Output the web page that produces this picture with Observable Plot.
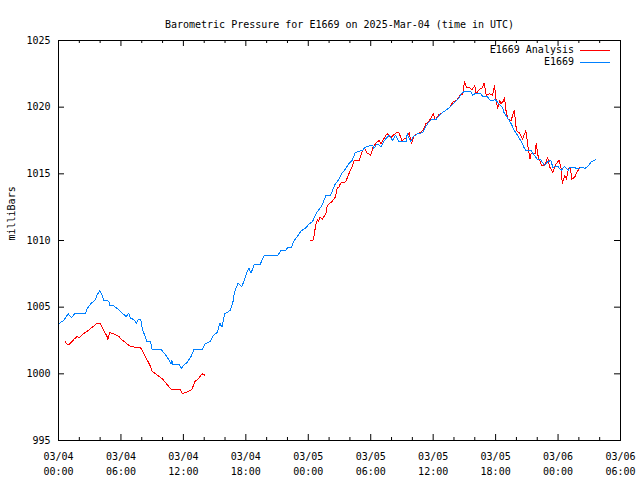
<!DOCTYPE html>
<html>
<head>
<meta charset="utf-8">
<script src="https://cdn.jsdelivr.net/npm/d3@7"></script>
<script src="https://cdn.jsdelivr.net/npm/@observablehq/plot@0.6"></script>
<style>
  html, body { margin: 0; padding: 0; background: #fff; }
  #chart { width: 640px; height: 480px; }
</style>
</head>
<body>
<div id="chart"></div>
<script>
// ---- Data (hours since 2025-03-04 00:00 UTC, pressure in millibars) ----
const titleText = "Barometric Pressure for E1669 on 2025-Mar-04 (time in UTC)";
const yLabelText = "milliBars";
const seriesNames = ["E1669 Analysis", "E1669"];
const seriesColors = ["#ff0000", "#0080ff"];

const xTickHours = [0, 6, 12, 18, 24, 30, 36, 42, 48, 54];
const xTickLabels = ["03/04\n00:00", "03/04\n06:00", "03/04\n12:00", "03/04\n18:00",
  "03/05\n00:00", "03/05\n06:00", "03/05\n12:00", "03/05\n18:00", "03/06\n00:00", "03/06\n06:00"];
const xMinorHours = [2, 4, 8, 10, 14, 16, 20, 22, 26, 28, 32, 34, 38, 40, 44, 46, 50, 52];
const yTicks = [995, 1000, 1005, 1010, 1015, 1020, 1025];

// E1669 (observed)
const obsHours = [0.1, 0.5, 0.93, 1.25, 1.54, 2.6, 2.76, 3.14, 3.5, 3.7, 3.97, 4.2, 4.36, 4.84, 4.9, 5.3, 5.8, 6.2, 6.5, 6.76, 6.9, 7.24, 7.5, 7.7, 7.9, 8.05, 8.5, 8.85, 9.0, 9.9, 10.3, 10.6, 10.8, 10.9, 11.0, 11.6, 11.8, 12.0, 12.4, 12.7, 12.85, 13.0, 13.8, 14.1, 14.6, 14.9, 15.25, 15.5, 15.7, 15.96, 16.5, 16.8, 16.9, 17.25, 17.6, 17.8, 18.1, 18.3, 18.5, 18.8, 19.36, 19.8, 21.1, 21.35, 21.8, 22.05, 22.4, 22.6, 22.95, 23.3, 23.75, 24.1, 24.4, 24.7, 25.0, 25.3, 25.7, 26.15, 26.4, 26.6, 26.95, 27.25, 27.6, 27.9, 28.25, 28.5, 28.9, 29.2, 29.4, 29.85, 30.2, 30.3, 30.6, 31.0, 31.3, 31.8, 32.1, 32.4, 32.7, 33.4, 33.5, 33.85, 34.1, 34.5, 35.0, 35.3, 35.6, 35.9, 36.25, 36.6, 36.9, 37.2, 37.6, 38.1, 38.4, 38.7, 39.0, 39.6, 39.8, 40.1, 40.6, 40.75, 41.2, 41.5, 42.0, 42.3, 42.65, 42.8, 43.1, 43.5, 43.8, 44.1, 44.4, 44.75, 44.9, 45.4, 45.7, 46.0, 46.35, 46.7, 47.0, 47.3, 47.5, 48.0, 48.3, 48.6, 49.0, 49.1, 49.6, 49.9, 50.4, 50.6, 50.9, 51.2, 51.6];
const obsValues = [1003.8, 1004.0, 1004.5, 1004.2, 1004.5, 1004.5, 1004.9, 1005.3, 1005.5, 1005.9, 1006.25, 1005.9, 1005.5, 1005.45, 1005.1, 1005.1, 1004.8, 1004.5, 1004.3, 1004.55, 1004.2, 1004.05, 1003.8, 1004.1, 1004.1, 1003.4, 1002.4, 1002.4, 1001.8, 1001.8, 1001.4, 1001.05, 1000.75, 1001.0, 1000.7, 1000.7, 1000.4, 1000.6, 1000.9, 1001.25, 1001.5, 1001.8, 1001.8, 1002.25, 1002.45, 1002.9, 1003.1, 1003.8, 1003.5, 1004.5, 1004.75, 1005.5, 1006.1, 1006.8, 1006.55, 1006.9, 1007.6, 1007.9, 1007.55, 1008.2, 1008.2, 1008.9, 1008.9, 1009.25, 1009.25, 1009.5, 1009.5, 1009.95, 1010.3, 1010.7, 1010.95, 1011.25, 1011.4, 1011.95, 1012.3, 1012.6, 1013.4, 1013.4, 1013.9, 1014.25, 1014.6, 1015.05, 1015.4, 1015.75, 1016.05, 1016.6, 1016.7, 1016.75, 1016.95, 1017.1, 1017.1, 1016.9, 1017.25, 1017.05, 1017.5, 1017.9, 1017.5, 1017.9, 1017.4, 1017.4, 1018.0, 1017.4, 1017.8, 1018.0, 1018.1, 1018.55, 1018.9, 1019.1, 1019.05, 1019.4, 1019.6, 1019.75, 1020.0, 1020.4, 1020.6, 1021.0, 1021.2, 1021.2, 1020.9, 1021.05, 1021.0, 1020.8, 1020.8, 1020.5, 1020.55, 1020.25, 1020.0, 1019.6, 1019.25, 1018.75, 1018.25, 1017.9, 1017.5, 1016.95, 1016.75, 1016.75, 1016.4, 1016.1, 1016.05, 1015.6, 1015.9, 1016.0, 1015.5, 1015.55, 1015.25, 1015.55, 1015.25, 1015.5, 1015.45, 1015.4, 1015.5, 1015.4, 1015.6, 1015.9, 1016.05];

// E1669 Analysis (null = gap)
const anaHours = [0.67, 0.83, 1.0, 1.5, 1.8, 1.95, 2.4, 2.85, 3.24, 3.65, 4.04, 4.36, 4.7, 4.74, 4.9, 5.3, 5.8, 6.1, 6.5, 6.9, 7.9, 8.2, 8.85, 9.0, 9.5, 10.0, 10.6, 10.9, 11.7, 11.9, 12.2, 12.7, 12.85, 13.1, 13.5, 13.8, 14.07, 19.0, 24.2, 24.5, 24.7, 24.9, 25.0, 25.1, 25.35, 25.7, 25.8, 26.0, 26.25, 26.6, 26.8, 26.95, 27.1, 27.6, 27.9, 28.25, 28.4, 28.9, 29.2, 29.4, 29.6, 30.0, 30.2, 30.5, 30.8, 31.0, 31.45, 31.6, 31.9, 32.4, 32.7, 33.0, 33.4, 33.7, 33.9, 34.2, 34.65, 35.0, 35.3, 35.55, 35.8, 36.0, 36.2, 36.5, 36.9, 37.2, 37.6, 37.9, 38.3, 38.6, 38.85, 39.0, 39.2, 39.5, 39.7, 40.0, 40.1, 40.4, 40.7, 40.9, 41.1, 41.4, 41.7, 41.9, 42.05, 42.2, 42.4, 42.5, 42.7, 42.85, 43.0, 43.2, 43.5, 43.7, 43.8, 44.0, 44.3, 44.6, 44.9, 45.1, 45.3, 45.4, 45.8, 45.9, 46.1, 46.45, 46.8, 47.0, 47.2, 47.5, 47.8, 48.1, 48.3, 48.4, 48.65, 48.8, 49.0, 49.2, 49.3, 49.6, 49.8, 50.1];
const anaValues = [1002.4, 1002.2, 1002.2, 1002.6, 1002.8, 1002.7, 1003.0, 1003.25, 1003.5, 1003.75, 1003.75, 1003.25, 1002.75, 1002.55, 1003.1, 1003.0, 1002.8, 1002.55, 1002.3, 1002.05, 1001.95, 1001.5, 1000.55, 1000.2, 999.9, 999.6, 999.05, 998.8, 998.8, 998.5, 998.6, 998.75, 998.9, 999.4, 999.7, 1000.0, 999.9, null, 1010.0, 1010.05, 1011.1, 1011.6, 1011.4, 1011.75, 1011.6, 1012.05, 1012.55, 1012.75, 1012.9, 1013.25, 1014.0, 1014.0, 1014.3, 1014.4, 1015.0, 1015.6, 1016.0, 1016.0, 1016.75, 1016.95, 1016.6, 1016.4, 1016.95, 1017.3, 1017.5, 1017.25, 1017.9, 1018.0, 1017.7, 1018.05, 1018.1, 1017.5, 1017.7, 1018.1, 1017.25, 1017.9, 1018.05, 1018.25, 1018.75, 1018.9, 1019.2, 1019.5, 1019.05, 1019.4, 1019.6, 1019.75, 1020.0, 1020.4, 1020.55, 1020.9, 1021.0, 1021.9, 1021.5, 1021.5, 1021.3, 1021.6, 1021.0, 1021.3, 1021.45, 1021.8, 1020.9, 1021.0, 1020.9, 1021.6, 1020.5, 1019.9, 1020.5, 1020.25, 1020.4, 1020.7, 1019.75, 1019.1, 1019.0, 1019.6, 1019.75, 1018.25, 1018.05, 1017.6, 1018.25, 1017.1, 1016.1, 1016.5, 1016.55, 1017.25, 1016.25, 1015.6, 1015.75, 1016.25, 1015.5, 1015.1, 1015.75, 1016.0, 1015.4, 1014.3, 1014.9, 1014.6, 1015.4, 1015.5, 1014.6, 1014.75, 1015.1, 1015.5];

// ---- Build tables ----
const obs = obsHours.map((h, i) => ({h, v: obsValues[i]}));
const ana = anaHours.map((h, i) => ({h, v: anaValues[i]}));

const FONT = "'DejaVu Sans Mono', 'Liberation Mono', monospace";
const H = 480, W = 640, ML = 58, MR = 20, MT = 40, MB = 40;
const plotW = W - ML - MR, plotH = H - MT - MB;

const chart = Plot.plot({
  width: W, height: H,
  marginLeft: ML, marginRight: MR, marginTop: MT, marginBottom: MB,
  style: {fontFamily: FONT, fontSize: "10px", color: "#000", background: "#fff"},
  x: {domain: [0, 54]},
  y: {domain: [995, 1025]},
  marks: [
    Plot.frame({stroke: "#000", strokeWidth: 1}),
    // inward tick marks
    Plot.tickX(xTickHours, {x: d => d, insetTop: plotH - 6, stroke: "#000"}),
    Plot.tickX(xTickHours, {x: d => d, insetBottom: plotH - 6, stroke: "#000"}),
    Plot.tickX(xMinorHours, {x: d => d, insetTop: plotH - 3, stroke: "#000"}),
    Plot.tickX(xMinorHours, {x: d => d, insetBottom: plotH - 3, stroke: "#000"}),
    Plot.tickY(yTicks, {y: d => d, insetRight: plotW - 6, stroke: "#000"}),
    Plot.tickY(yTicks, {y: d => d, insetLeft: plotW - 6, stroke: "#000"}),
    Plot.axisX({ticks: xTickHours, tickFormat: d => xTickLabels[xTickHours.indexOf(d)],
      tickSize: 0, tickPadding: 9, lineHeight: 1.5, label: null, fontSize: 10}),
    Plot.axisY({ticks: yTicks, tickFormat: d => String(d), tickSize: 0, tickPadding: 8, label: null, fontSize: 10}),
    Plot.line(ana, {x: "h", y: "v", stroke: seriesColors[0], strokeWidth: 1, curve: "linear", shapeRendering: "crispEdges"}),
    Plot.line(obs, {x: "h", y: "v", stroke: seriesColors[1], strokeWidth: 1, curve: "linear", shapeRendering: "crispEdges"}),
    Plot.text([titleText], {frameAnchor: "top", dy: -20, fontSize: 10}),
    Plot.text([yLabelText], {frameAnchor: "left", dx: -47, rotate: -90, fontSize: 10})
  ]
});

// Legend (inside top-right of plot)
const svg = d3.select(chart);
const lg = svg.append("g").attr("font-family", FONT).attr("font-size", 10);
seriesNames.forEach((name, i) => {
  const y = 50 + i * 12;
  lg.append("text").attr("x", 574).attr("y", y).attr("dy", "0.32em")
    .attr("text-anchor", "end").attr("fill", "#000").text(name);
  lg.append("line").attr("x1", 580).attr("x2", 610).attr("y1", y + 0.5).attr("y2", y + 0.5)
    .attr("stroke", seriesColors[i]).attr("stroke-width", 1);
});

document.getElementById("chart").appendChild(chart);
</script>
</body>
</html>
